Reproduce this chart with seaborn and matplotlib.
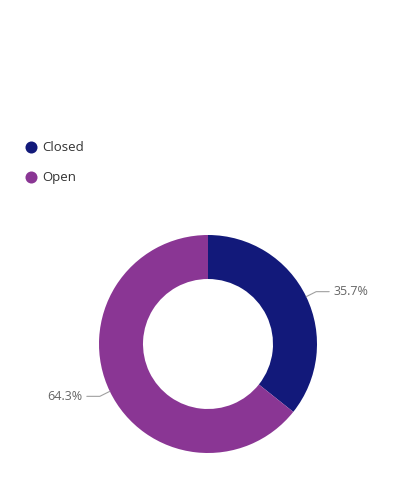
import numpy as np
import matplotlib.pyplot as plt
import seaborn as sns

labels = ["Closed", "Open"]
shares = [35.7, 64.3]
colors = ["#12197a", "#8a3694"]

sns.set_theme(style="white")
plt.rcParams["font.family"] = ["Open Sans", "DejaVu Sans"]

W, H = 409, 498
fig = plt.figure(figsize=(W / 100, H / 100), dpi=100)
ax = fig.add_axes([0, 0, 1, 1])
ax.set_xlim(0, W)
ax.set_ylim(0, H)
ax.axis("off")

cx, cy, r = 208, H - 344, 109
wedges, _ = ax.pie(shares, colors=colors, startangle=90, counterclock=False,
                   center=(cx, cy), radius=r, frame=True,
                   wedgeprops=dict(width=r - 65, linewidth=0))
ax.set_xlim(0, W)
ax.set_ylim(0, H)
ax.axis("off")

# leader lines + percentage labels
for w, s in zip(wedges, shares):
    mid = np.deg2rad((w.theta1 + w.theta2) / 2)
    x0, y0 = cx + r * np.cos(mid), cy + r * np.sin(mid)
    side = 1 if np.cos(mid) > 0 else -1
    x1, y1 = x0 + side * 10, y0 + np.sign(np.sin(mid)) * 5
    x2 = x1 + side * 13
    ax.plot([x0, x1, x2], [y0, y1, y1], color="#a0a0a0", lw=0.8)
    ax.text(x2 + side * 4, y1, f"{s}%", ha="left" if side > 0 else "right",
            va="center", fontsize=9, color="#666666")

# legend
for i, (lab, c) in enumerate(zip(labels, colors)):
    ly = H - (147 + 30 * i)
    ax.scatter([31], [ly], s=75, color=c, linewidths=0)
    ax.text(42, ly, lab, ha="left", va="center", fontsize=9.5, color="#333333")

fig.savefig("out.png", dpi=100)
